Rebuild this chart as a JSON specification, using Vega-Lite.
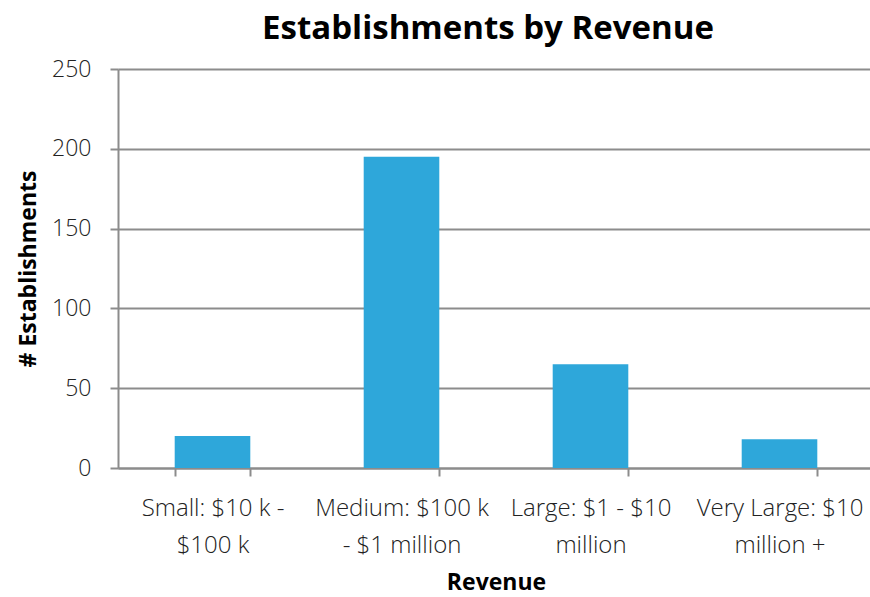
{
  "$schema": "https://vega.github.io/schema/vega-lite/v6.json",
  "width": 756,
  "height": 399,
  "autosize": {"type": "none"},
  "padding": {"left": 118, "top": 69, "right": 0, "bottom": 129},
  "background": "white",
  "title": {
    "text": "Establishments by Revenue",
    "font": "Open Sans",
    "fontSize": 33,
    "fontWeight": "bold",
    "color": "#000000",
    "anchor": "middle",
    "dx": -8,
    "offset": 12
  },
  "data": {
    "values": [
      {"Revenue": "Small: $10 k - $100 k", "Establishments": 20},
      {"Revenue": "Medium: $100 k - $1 million", "Establishments": 195},
      {"Revenue": "Large: $1 - $10 million", "Establishments": 65},
      {"Revenue": "Very Large: $10 million +", "Establishments": 18}
    ]
  },
  "mark": {"type": "bar", "color": "#2EA7DA"},
  "encoding": {
    "x": {
      "field": "Revenue",
      "type": "nominal",
      "sort": null,
      "scale": {"paddingInner": 0.6, "paddingOuter": 0.3},
      "axis": {
        "title": "Revenue",
        "titleFont": "Open Sans",
        "titleFontSize": 23,
        "titleFontWeight": "bold",
        "titleColor": "#000000",
        "titleBaseline": "middle",
        "titleY": 114,
        "labelAngle": 0,
        "labelFont": "Open Sans",
        "labelFontWeight": 300,
        "labelFontSize": 24,
        "labelColor": "#222222",
        "labelLineHeight": 37,
        "labelBaseline": "top",
        "labelPadding": 20,
        "labelLimit": 300,
        "labelExpr": "datum.label == 'Small: $10 k - $100 k' ? ['Small: $10 k -', '$100 k'] : datum.label == 'Medium: $100 k - $1 million' ? ['Medium: $100 k', '- $1 million'] : datum.label == 'Large: $1 - $10 million' ? ['Large: $1 - $10', 'million'] : datum.label == 'Very Large: $10 million +' && datum.index > 0.5 ? ['Very Large: $10', 'million +'] : ''",
        "tickBand": "extent",
        "tickSize": 8,
        "tickColor": "#8c8c8c",
        "tickWidth": 2,
        "domainColor": "#8c8c8c",
        "domainWidth": 2,
        "grid": false
      }
    },
    "y": {
      "field": "Establishments",
      "type": "quantitative",
      "scale": {"domain": [0, 250]},
      "axis": {
        "title": "# Establishments",
        "titleFont": "Open Sans",
        "titleFontSize": 23,
        "titleFontWeight": "bold",
        "titleColor": "#000000",
        "titleAngle": -90,
        "titleBaseline": "middle",
        "titleX": -90,
        "titleY": 199.5,
        "values": [0, 50, 100, 150, 200, 250],
        "labelFont": "Open Sans",
        "labelFontWeight": 300,
        "labelFontSize": 23,
        "labelColor": "#222222",
        "labelPadding": 19,
        "tickSize": 8,
        "tickColor": "#8c8c8c",
        "tickWidth": 2,
        "domainColor": "#8c8c8c",
        "domainWidth": 2,
        "grid": true,
        "gridColor": "#8c8c8c",
        "gridWidth": 2
      }
    }
  },
  "config": {"view": {"stroke": null}}
}
